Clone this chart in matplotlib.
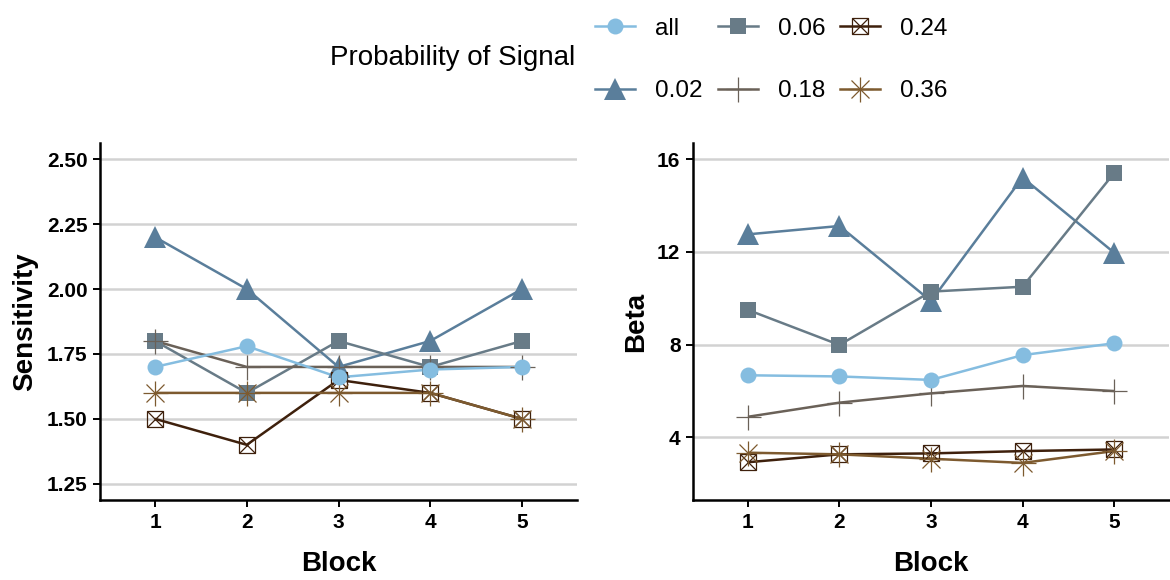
"""
Sensitivity and Beta by block, one line per probability of signal.
"""
import matplotlib
matplotlib.use('Agg')

import matplotlib.pyplot as plt
from matplotlib.legend_handler import HandlerTuple

plt.rcParams['font.family'] = ['Liberation Sans', 'DejaVu Sans']

# --- Data ---
blocks = [1, 2, 3, 4, 5]
groups = ["all", "0.02", "0.06", "0.18", "0.24", "0.36"]

sens_all = [1.70, 1.78, 1.66, 1.69, 1.70]
sens_002 = [2.20, 2.00, 1.70, 1.80, 2.00]
sens_006 = [1.80, 1.60, 1.80, 1.70, 1.80]
sens_018 = [1.80, 1.70, 1.70, 1.70, 1.70]
sens_024 = [1.50, 1.40, 1.65, 1.60, 1.50]
sens_036 = [1.60, 1.60, 1.60, 1.60, 1.50]

beta_all = [6.68, 6.63, 6.48, 7.55, 8.06]
beta_002 = [12.76, 13.12, 9.88, 15.21, 11.97]
beta_006 = [9.50, 7.99, 10.29, 10.50, 15.40]
beta_018 = [4.89, 5.50, 5.90, 6.22, 6.00]
beta_024 = [2.93, 3.27, 3.31, 3.41, 3.48]
beta_036 = [3.34, 3.27, 3.08, 2.90, 3.41]

sens_ticks = [1.25, 1.50, 1.75, 2.00, 2.25, 2.50]
beta_ticks = [4, 8, 12, 16]

sensitivity = dict(zip(groups, [sens_all, sens_002, sens_006, sens_018, sens_024, sens_036]))
beta = dict(zip(groups, [beta_all, beta_002, beta_006, beta_018, beta_024, beta_036]))

colors = {
    "all": "#85bde0",
    "0.02": "#5a7e9b",
    "0.06": "#687b87",
    "0.18": "#6a6158",
    "0.24": "#3e200c",
    "0.36": "#7d5a2f",
}

# drawing order (ggplot puts "all" last)
draw_order = ["0.02", "0.06", "0.18", "0.24", "0.36", "all"]

W, H = 1170, 580
fig = plt.figure(figsize=(W / 100, H / 100), dpi=100)


def px_axes(x0, y0, x1, y1):
    return fig.add_axes([x0 / W, 1 - y1 / H, (x1 - x0) / W, (y1 - y0) / H])


ax_s = px_axes(100, 143, 577, 500)
ax_b = px_axes(693, 143, 1169, 500)

LW = 1.8


def draw_series(ax, data):
    handles = {}
    # lines under all points
    for g in draw_order:
        ax.plot(blocks, data[g], color=colors[g], lw=LW, zorder=2,
                solid_capstyle='butt')
    for g in draw_order:
        c = colors[g]
        if g == "all":
            h = ax.plot(blocks, data[g], color=c, marker='o', ms=11.5,
                        mew=0, lw=0, zorder=3)[0]
        elif g == "0.02":
            h = ax.plot(blocks, data[g], color=c, marker='^', ms=16,
                        mew=0, lw=0, zorder=3)[0]
        elif g == "0.06":
            h = ax.plot(blocks, data[g], color=c, marker='s', ms=11.5,
                        mew=0, lw=0, zorder=3)[0]
        elif g == "0.18":
            h = ax.plot(blocks, data[g], color=c, marker='+', ms=18,
                        mew=0.9, lw=0, zorder=3)[0]
        elif g == "0.24":
            h1 = ax.plot(blocks, data[g], color=c, marker='s', ms=11.5,
                         mfc='none', mec=c, mew=0.9, lw=0, zorder=3)[0]
            h2 = ax.plot(blocks, data[g], color=c, marker='x', ms=11.5,
                         mew=0.9, lw=0, zorder=3)[0]
            h = (h1, h2)
        else:
            h1 = ax.plot(blocks, data[g], color=c, marker='+', ms=18,
                         mew=0.9, lw=0, zorder=3)[0]
            h2 = ax.plot(blocks, data[g], color=c, marker='x', ms=12.5,
                         mew=0.9, lw=0, zorder=3)[0]
            h = (h1, h2)
        handles[g] = h
    return handles


def style_axes(ax, ticks, ylim, ylabel, fmt):
    ax.set_xlim(0.4, 5.6)
    ax.set_ylim(*ylim)
    ax.set_xticks(blocks)
    ax.set_yticks(ticks)
    ax.set_yticklabels([fmt.format(t) for t in ticks])
    for spine in ['top', 'right']:
        ax.spines[spine].set_visible(False)
    for spine in ['left', 'bottom']:
        ax.spines[spine].set_linewidth(1.8)
        ax.spines[spine].set_color('black')
    ax.tick_params(axis='both', length=5, width=1.4, color='black',
                   labelsize=15, pad=4)
    for lab in ax.get_xticklabels() + ax.get_yticklabels():
        lab.set_fontweight('bold')
    ax.grid(axis='y', color='#d2d2d2', lw=1.8)
    ax.set_axisbelow(True)
    ax.set_xlabel("Block", fontsize=20, fontweight='bold', labelpad=14)
    ax.set_ylabel(ylabel, fontsize=20, fontweight='bold', labelpad=6)


handles = draw_series(ax_s, sensitivity)
draw_series(ax_b, beta)

style_axes(ax_s, sens_ticks, (1.1875, 2.5625), "Sensitivity", "{:.2f}")
style_axes(ax_b, beta_ticks, (1.3, 16.7), "Beta", "{:d}")


# --- Legend on top ---
def legend_handle(g):
    c = colors[g]
    line = plt.Line2D([], [], color=c, lw=LW)
    h = handles[g]
    if isinstance(h, tuple):
        return (line,) + h
    return (line, h)


leg = fig.legend([legend_handle(g) for g in groups], groups,
                 handler_map={tuple: HandlerTuple(ndivide=1)},
                 ncol=3, loc='center left', bbox_to_anchor=(595 / W, 1 - 60 / H),
                 frameon=False, fontsize=17.5, handlelength=1.65,
                 handletextpad=0.82, columnspacing=0.62, labelspacing=1.65,
                 borderpad=0, borderaxespad=0)

fig.text(330 / W, 1 - 58 / H, "Probability of Signal", fontsize=20,
         ha='left', va='center')

fig.savefig("out.png", dpi=100)
